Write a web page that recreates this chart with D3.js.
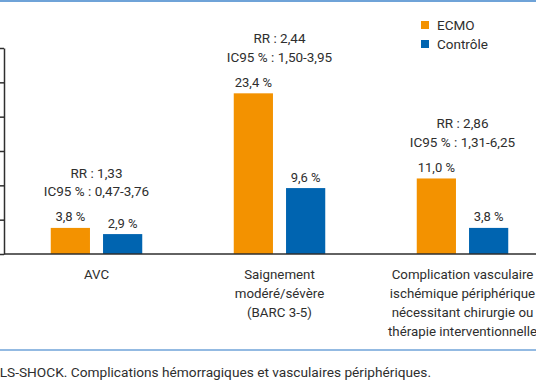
<!DOCTYPE html>
<html>
<head>
<meta charset="utf-8">
<script src="https://cdn.jsdelivr.net/npm/d3@7"></script>
<style>
  body { margin: 0; background: #fff; }
  svg { display: block; font-family: Roboto, "Noto Sans", sans-serif; }
</style>
</head>
<body>
<svg id="chart"></svg>
<script>
// données
var categories = [
  "AVC",
  "Saignement|modéré/sévère|(BARC 3-5)",
  "Complication vasculaire|ischémique périphérique|nécessitant chirurgie ou|thérapie interventionnelle"
];
var series = ["ECMO", "Contrôle"];
var ecmo = [3.8, 23.4, 11.0];
var controle = [2.9, 9.6, 3.8];
var rr = ["1,33", "2,44", "2,86"];
var ic95 = ["0,47-3,76", "1,50-3,95", "1,31-6,25"];
var yTicks = [0, 5, 10, 15, 20, 25, 30];
var caption = "ECLS-SHOCK. Complications hémorragiques et vasculaires périphériques.";

var colors = ["#f39200", "#0064b0"];
var textColor = "#2e2e2e";

var W = 536, H = 386;
var svg = d3.select("#chart").attr("width", W).attr("height", H);

// filets bleus haut et bas
svg.append("line")
  .attr("x1", 0).attr("x2", W).attr("y1", 1).attr("y2", 1)
  .attr("stroke", "#6fa3d8").attr("stroke-width", 2);
svg.append("line")
  .attr("x1", 0).attr("x2", W).attr("y1", 350).attr("y2", 350)
  .attr("stroke", "#6fa3d8").attr("stroke-width", 1.5);

var left = 4, baseY = 254, topY = 48;

var y = d3.scaleLinear().domain([0, 30]).range([baseY, topY]);
var x0 = d3.scaleBand().domain(d3.range(categories.length))
  .range([5, 554]).paddingInner(0.5).paddingOuter(0.25);
var x1 = d3.scaleBand().domain(d3.range(series.length))
  .range([0, x0.bandwidth()]).paddingInner(0.25);

// axe Y (graduations sans libellés visibles, comme sur l'original recadré)
var yAxis = svg.append("g")
  .attr("transform", "translate(" + left + ",0)")
  .call(d3.axisLeft(y).tickValues(yTicks).tickSize(5).tickSizeOuter(0).tickFormat(""));
yAxis.select(".domain").attr("stroke", textColor).attr("stroke-width", 1.5);
yAxis.selectAll(".tick line").attr("stroke", textColor).attr("stroke-width", 1.5);

var fmt = function(v) { return d3.format(".1f")(v).replace(".", ",") + " %"; };

var groups = svg.selectAll(".grp")
  .data(categories)
  .enter().append("g")
  .attr("class", "grp")
  .attr("transform", function(d, i) { return "translate(" + x0(i) + ",0)"; });

groups.each(function(d, i) {
  var g = d3.select(this);
  var vals = [ecmo[i], controle[i]];
  vals.forEach(function(v, j) {
    g.append("rect")
      .attr("x", x1(j))
      .attr("y", y(v))
      .attr("width", x1.bandwidth())
      .attr("height", baseY - y(v))
      .attr("fill", colors[j]);
    g.append("text")
      .attr("x", x1(j) + x1.bandwidth() / 2)
      .attr("y", y(v) - 6.5)
      .attr("text-anchor", "middle")
      .attr("fill", textColor)
      .style("font-size", "13px")
      .text(fmt(v));
  });
  var cx = x0.bandwidth() / 2;
  var top = y(d3.max(vals)) - 6.5 - 25;
  g.append("text")
    .attr("x", cx).attr("y", top)
    .attr("text-anchor", "middle").attr("fill", textColor)
    .style("font-size", "13.5px")
    .text("IC95 % : " + ic95[i]);
  g.append("text")
    .attr("x", cx).attr("y", top - 18.5)
    .attr("text-anchor", "middle").attr("fill", textColor)
    .style("font-size", "13.5px")
    .text("RR : " + rr[i]);

  // libellé de catégorie
  var lines = d.split("|");
  g.selectAll(".cat")
    .data(lines)
    .enter().append("text")
    .attr("class", "cat")
    .attr("x", cx)
    .attr("y", function(l, k) { return 279 + k * 19; })
    .attr("text-anchor", "middle")
    .attr("fill", textColor)
    .style("font-size", "13.3px")
    .text(function(l) { return l; });
});

// ligne de base
svg.append("line")
  .attr("x1", left).attr("x2", W).attr("y1", baseY).attr("y2", baseY)
  .attr("stroke", textColor).attr("stroke-width", 1.5);

// légende
var legend = svg.selectAll(".leg")
  .data(series)
  .enter().append("g")
  .attr("class", "leg")
  .attr("transform", function(d, i) { return "translate(421," + (21 + i * 19) + ")"; });
legend.append("rect")
  .attr("width", 8).attr("height", 8)
  .attr("fill", function(d, i) { return colors[i]; });
legend.append("text")
  .attr("x", 16).attr("y", 8.5)
  .attr("fill", textColor)
  .style("font-size", "13.5px")
  .text(function(d) { return d; });

// légende de figure (recadrée à gauche comme sur l'original)
svg.append("text")
  .attr("x", 431).attr("y", 376.5)
  .attr("text-anchor", "end")
  .attr("fill", textColor)
  .style("font-size", "13.7px")
  .text(caption);
</script>
</body>
</html>
